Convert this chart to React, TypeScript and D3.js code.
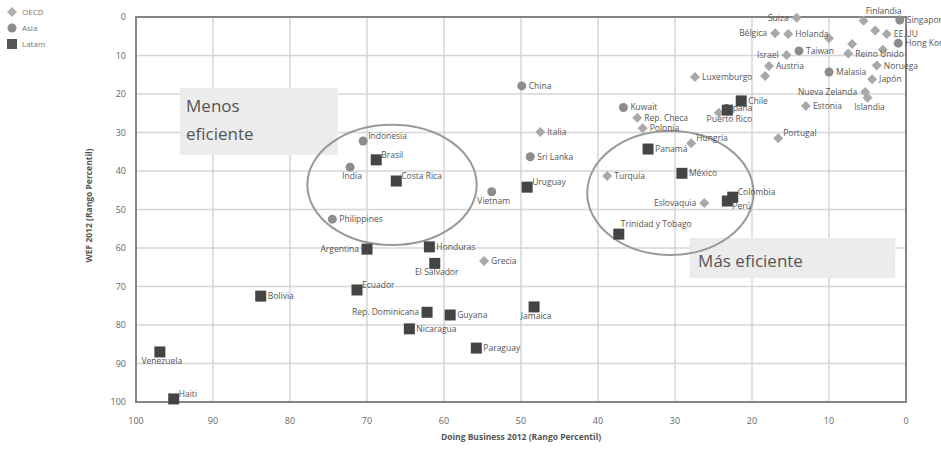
import * as d3 from 'd3'

// [name, Doing Business 2012 percentile, WEF 2012 percentile]
type Pt = [string, number, number]

const oecd: Pt[] = [
  ['Italia', 47.5, 29.9],
  ['Grecia', 54.8, 63.4],
  ['Turquía', 38.8, 41.3],
  ['Eslovaquia', 26.2, 48.3],
  ['Hungría', 27.9, 32.8],
  ['Rep. Checa', 34.9, 26.2],
  ['Polonia', 34.2, 28.9],
  ['Portugal', 16.6, 31.5],
  ['Luxemburgo', 27.4, 15.6],
  ['Francia', 18.3, 15.3],
  ['España', 24.3, 24.9],
  ['Estonia', 13.0, 23.1],
  ['Israel', 15.5, 9.9],
  ['Austria', 17.8, 12.7],
  ['Bélgica', 17.0, 4.2],
  ['Holanda', 15.3, 4.4],
  ['Suiza', 14.2, 0.2],
  ['Finlandia', 5.5, 1.0],
  ['Dinamarca', 10.0, 5.5],
  ['Suecia', 4.0, 3.5],
  ['EE.UU', 2.5, 4.4],
  ['Alemania', 7.0, 7.0],
  ['Canadá', 3.0, 8.5],
  ['Reino Unido', 7.5, 9.5],
  ['Noruega', 3.8, 12.6],
  ['Japón', 4.4, 16.2],
  ['Nueva Zelanda', 5.3, 19.5],
  ['Islandia', 5.0, 21.0],
]

const asia: Pt[] = [
  ['China', 49.9, 17.9],
  ['Indonesia', 70.5, 32.2],
  ['India', 72.2, 39.0],
  ['Philippines', 74.5, 52.5],
  ['Vietnam', 53.8, 45.4],
  ['Sri Lanka', 48.8, 36.3],
  ['Kuwait', 36.7, 23.5],
  ['Taiwan', 13.9, 8.8],
  ['Malasia', 10.0, 14.3],
  ['Singapore', 0.8, 0.8],
  ['Hong Kong', 1.0, 6.8],
]

const latam: Pt[] = [
  ['Haiti', 95.1, 99.2],
  ['Venezuela', 96.9, 87.0],
  ['Bolivia', 83.8, 72.5],
  ['Ecuador', 71.3, 70.9],
  ['Argentina', 70.0, 60.3],
  ['Honduras', 61.9, 59.7],
  ['El Salvador', 61.2, 64.0],
  ['Rep. Dominicana', 62.2, 76.7],
  ['Guyana', 59.2, 77.4],
  ['Nicaragua', 64.5, 81.0],
  ['Paraguay', 55.8, 86.0],
  ['Jamaica', 48.3, 75.3],
  ['Brasil', 68.8, 37.1],
  ['Costa Rica', 66.2, 42.6],
  ['Uruguay', 49.2, 44.2],
  ['Panamá', 33.5, 34.3],
  ['México', 29.1, 40.6],
  ['Colombia', 22.5, 46.8],
  ['Perú', 23.2, 47.8],
  ['Trinidad y Tobago', 37.3, 56.4],
  ['Chile', 21.4, 21.8],
  ['Puerto Rico', 23.2, 24.2],
]

const ticks = [0, 10, 20, 30, 40, 50, 60, 70, 80, 90, 100]

// label placement: r = right, ra = right-above, rb = right-below, l = left, b = below, t = above, n = none
const labelPos: Record<string, string> = {
  Haiti: 'ra', Venezuela: 'b', Ecuador: 'ra', Argentina: 'l', 'El Salvador': 'b',
  'Rep. Dominicana': 'l', Jamaica: 'b', Brasil: 'ra', 'Costa Rica': 'ra', Uruguay: 'ra',
  Colombia: 'ra', Perú: 'rb', 'Trinidad y Tobago': 't', 'Puerto Rico': 'b', Indonesia: 'ra',
  India: 'b', Vietnam: 'b', Eslovaquia: 'l', Israel: 'l', Bélgica: 'l', Suiza: 'l',
  'Nueva Zelanda': 'l', Islandia: 'b', Francia: 'n', Finlandia: 't', Dinamarca: 'n',
  Suecia: 'n', Alemania: 'n', Canadá: 'n', Hungría: 'ra', Portugal: 'ra', España: 'ra',
}

const W = 941
const H = 450

export default function App() {
  const x = d3.scaleLinear().domain([100, 0]).range([136, 906])
  const y = d3.scaleLinear().domain([0, 100]).range([17, 402])
  const font = "'Open Sans', 'DejaVu Sans', sans-serif"

  const label = (p: Pt) => {
    const pos = labelPos[p[0]] || 'r'
    if (pos === 'n') return null
    const cx = x(p[1])
    const cy = y(p[2])
    let tx = cx + 7
    let ty = cy + 3
    let anchor = 'start'
    if (pos === 'ra') { tx = cx + 5; ty = cy - 2 }
    if (pos === 'rb') { tx = cx + 5; ty = cy + 8 }
    if (pos === 'l') { tx = cx - 8; anchor = 'end' }
    if (pos === 'b') { tx = cx + 2; ty = cy + 12; anchor = 'middle' }
    if (pos === 't') { tx = cx + 2; ty = cy - 7 }
    return (
      <text key={'l' + p[0]} x={tx} y={ty} textAnchor={anchor} fontSize={8.5} fill="#555" fontFamily={font}>
        {p[0]}
      </text>
    )
  }

  const diamond = (cx: number, cy: number, s: number) =>
    `M${cx},${cy - s}L${cx + s},${cy}L${cx},${cy + s}L${cx - s},${cy}Z`

  return (
    <svg width={W} height={H} style={{ position: 'absolute', left: 0, top: 0, background: '#fff' }}>
      {/* grid */}
      {ticks.map(t => (
        <line key={'gx' + t} x1={x(t)} x2={x(t)} y1={y(0)} y2={y(100)} stroke="#d6d6d6" strokeWidth={1.5} />
      ))}
      {ticks.map(t => (
        <line key={'gy' + t} x1={x(100)} x2={x(0)} y1={y(t)} y2={y(t)} stroke="#d6d6d6" strokeWidth={1.5} />
      ))}
      <rect x={x(100)} y={y(0)} width={x(0) - x(100)} height={y(100) - y(0)} fill="none" stroke="#858585" strokeWidth={2} />

      {/* ticks */}
      {ticks.map(t => (
        <text key={'tx' + t} x={x(t)} y={424} textAnchor="middle" fontSize={9} fill="#666" fontFamily={font}>{t}</text>
      ))}
      {ticks.map(t => (
        <text key={'ty' + t} x={126} y={y(t) + 3} textAnchor="end" fontSize={9} fill="#666" fontFamily={font}>{t}</text>
      ))}
      <text x={(x(100) + x(0)) / 2} y={440} textAnchor="middle" fontSize={8.5} fontWeight="bold" fill="#555" fontFamily={font}>
        Doing Business 2012 (Rango Percentil)
      </text>
      <text transform={`translate(92,${(y(0) + y(100)) / 2 - 4}) rotate(-90)`} textAnchor="middle" fontSize={8.5} fontWeight="bold" fill="#555" fontFamily={font}>
        WEF 2012 (Rango Percentil)
      </text>

      {/* annotations */}
      <rect x={x(94.3)} y={y(18.4)} width={x(73.8) - x(94.3)} height={y(35.8) - y(18.4)} fill="#ececec" />
      <text x={x(93.5)} y={y(24.6)} fontSize={17} fill="#555" fontFamily={font}>Menos</text>
      <text x={x(93.5)} y={y(32.0)} fontSize={17} fill="#555" fontFamily={font}>eficiente</text>
      <rect x={x(28.1)} y={y(57.4)} width={x(1.4) - x(28.1)} height={y(67.8) - y(57.4)} fill="#ececec" />
      <text x={x(27.0)} y={y(65.0)} fontSize={17} fill="#555" fontFamily={font}>Más eficiente</text>

      <ellipse cx={x(66.75)} cy={y(43.6)} rx={x(0) - x(11.0)} ry={y(15.6) - y(0)} fill="none" stroke="#999" strokeWidth={2} />
      <ellipse cx={x(30.6)} cy={y(45.7)} rx={x(0) - x(10.8)} ry={y(16.1) - y(0)} fill="none" stroke="#999" strokeWidth={2} />

      {/* markers */}
      {oecd.map(p => (
        <path key={'o' + p[0]} d={diamond(x(p[1]), y(p[2]), 5)} fill="#a9a9a9" />
      ))}
      {asia.map(p => (
        <circle key={'a' + p[0]} cx={x(p[1])} cy={y(p[2])} r={4.5} fill="#8c8c8c" />
      ))}
      {latam.map(p => (
        <rect key={'s' + p[0]} x={x(p[1]) - 5.5} y={y(p[2]) - 5.5} width={11} height={11} fill="#454545" />
      ))}
      {oecd.map(label)}
      {asia.map(label)}
      {latam.map(label)}

      {/* legend */}
      <path d={diamond(12, 12, 5)} fill="#b0b0b0" />
      <text x={22} y={15} fontSize={8} fill="#777" fontFamily={font}>OECD</text>
      <circle cx={12} cy={28} r={4.5} fill="#8c8c8c" />
      <text x={22} y={31} fontSize={8} fill="#777" fontFamily={font}>Asia</text>
      <rect x={7} y={39} width={10} height={10} fill="#555" />
      <text x={22} y={47} fontSize={8} fill="#777" fontFamily={font}>Latam</text>
    </svg>
  )
}
